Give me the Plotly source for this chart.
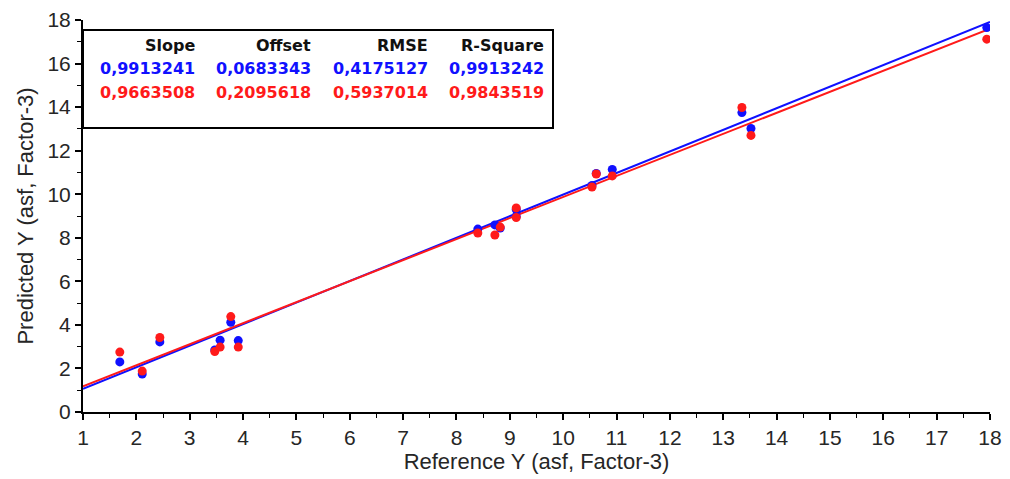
import numpy as np
import plotly.graph_objects as go

# ---- data ----
reference_y = [1.69, 2.11, 2.44, 3.47, 3.57, 3.77, 3.91, 8.40, 8.72, 8.82, 9.12, 9.12,
               10.54, 10.62, 10.92, 13.35, 13.52, 17.94]
predicted_blue = [2.30, 1.74, 3.22, 2.85, 3.30, 4.12, 3.28, 8.40, 8.59, 8.45, 9.30, 8.98,
                  10.40, 10.95, 11.14, 13.75, 13.02, 17.65]
predicted_red = [2.75, 1.88, 3.42, 2.78, 2.98, 4.38, 2.98, 8.22, 8.13, 8.49, 9.37, 8.93,
                 10.33, 10.93, 10.84, 13.98, 12.70, 17.12]

stat_names = ["Slope", "Offset", "RMSE", "R-Square"]
stats_blue = [0.9913241, 0.0683343, 0.4175127, 0.9913242]
stats_red = [0.9663508, 0.2095618, 0.5937014, 0.9843519]

x_ticks = list(range(1, 19))
y_ticks = list(range(0, 19, 2))

BLUE = "#1010ff"
RED = "#ff1a1a"

# ---- plot geometry (px) ----
W, H = 1010, 479
ML, MR, MT, MB = 83, 20, 20, 67
pw, ph = W - ML - MR, H - MT - MB

def px_x(p):
    return (p - ML) / pw

def px_y(p):
    return (H - MB - p) / ph

fig = go.Figure()

xl = np.array([x_ticks[0], x_ticks[-1]], dtype=float)
for stats, col in [(stats_blue, BLUE), (stats_red, RED)]:
    fig.add_trace(go.Scatter(x=xl, y=stats[0] * xl + stats[1], mode="lines",
                             line=dict(color=col, width=2), hoverinfo="skip",
                             showlegend=False))

fig.add_trace(go.Scatter(x=reference_y, y=predicted_blue, mode="markers",
                         marker=dict(color=BLUE, size=9), showlegend=False))
fig.add_trace(go.Scatter(x=reference_y, y=predicted_red, mode="markers",
                         marker=dict(color=RED, size=9), showlegend=False))

# stats box
fig.add_shape(type="rect", xref="paper", yref="paper",
              x0=0, x1=px_x(553), y0=px_y(128), y1=px_y(30),
              line=dict(color="black", width=2), fillcolor="white", layer="below")

col_right = [197, 313, 430, 546]
row_y = [45, 68, 92]
tf = "DejaVu Sans"
for i, name in enumerate(stat_names):
    fig.add_annotation(x=px_x(col_right[i]), y=px_y(row_y[0]), xref="paper", yref="paper",
                       text=f"<b>{name}</b>", showarrow=False, xanchor="right", yanchor="middle",
                       font=dict(family=tf, size=16, color="#111"))
    for vals, col, ry in [(stats_blue, BLUE, row_y[1]), (stats_red, RED, row_y[2])]:
        fig.add_annotation(x=px_x(col_right[i]), y=px_y(ry), xref="paper", yref="paper",
                           text=f"<b>{vals[i]:.7f}</b>".replace(".", ","), showarrow=False,
                           xanchor="right", yanchor="middle",
                           font=dict(family=tf, size=16, color=col))

axis_font = dict(family="Liberation Sans, Arial, sans-serif", size=21, color="#262626")
title_font = dict(family="Liberation Sans, Arial, sans-serif", size=22, color="#262626")
fig.update_layout(
    width=W, height=H,
    margin=dict(l=ML, r=MR, t=MT, b=MB),
    plot_bgcolor="white", paper_bgcolor="white",
    xaxis=dict(range=[x_ticks[0], x_ticks[-1]], tickvals=x_ticks, automargin=False,
               showgrid=False, zeroline=False, showline=True, linecolor="black", linewidth=2,
               ticks="outside", ticklen=6, tickwidth=1.5, tickcolor="black",
               minor=dict(dtick=0.5, ticks="outside", ticklen=4, tickwidth=1, tickcolor="black"),
               tickfont=axis_font,
               title=dict(text="Reference Y (asf, Factor-3)", standoff=3, font=title_font)),
    yaxis=dict(range=[y_ticks[0], y_ticks[-1]], tickvals=y_ticks, automargin=False,
               showgrid=False, zeroline=False, showline=True, linecolor="black", linewidth=2,
               ticks="outside", ticklen=6, tickwidth=1.5, tickcolor="black",
               minor=dict(dtick=1, ticks="outside", ticklen=4, tickwidth=1, tickcolor="black"),
               tickfont=axis_font,
               title=dict(text="Predicted Y (asf, Factor-3)", standoff=8, font=title_font)),
)

fig.write_html("out.html")
